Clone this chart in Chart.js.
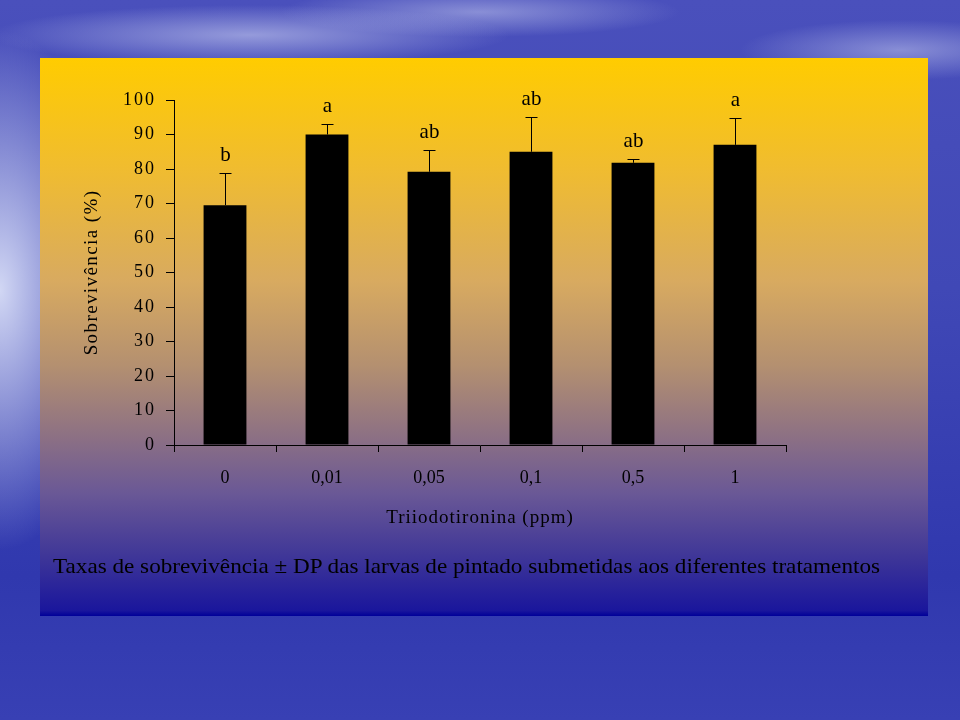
<!DOCTYPE html>
<html>
<head>
<meta charset="utf-8">
<script src="https://cdn.jsdelivr.net/npm/chart.js@4/dist/chart.umd.min.js"></script>
<style>
  html, body { margin: 0; padding: 0; }
  body {
    width: 960px; height: 720px; overflow: hidden; position: relative;
    background:
      radial-gradient(ellipse 120px 260px at 0px 290px, rgba(235,240,255,0.85), rgba(235,240,255,0) 100%),
      radial-gradient(ellipse 260px 30px at 250px 35px, rgba(200,205,240,0.6), rgba(200,205,240,0) 100%),
      radial-gradient(ellipse 200px 25px at 480px 12px, rgba(200,205,240,0.5), rgba(200,205,240,0) 100%),
      radial-gradient(ellipse 160px 30px at 900px 50px, rgba(200,205,240,0.5), rgba(200,205,240,0) 100%),
      linear-gradient(180deg, #4a50bc 0%, #4048b6 40%, #3038ae 80%, #3840b4 100%);
  }
  #panel {
    position: absolute; left: 40px; top: 58px; width: 888px; height: 558px;
    background: linear-gradient(180deg, #ffcc00 0%, #f0bc30 20%, #d8aa60 40%, #b49070 55%, #8c7084 68%, #6a5896 78%, #3c3498 90%, #1a169c 99%, #000099 100%);
  }
  #chart { position: absolute; left: 0; top: 0; }
  #caption {
    position: absolute; left: 53px; top: 553px;
    font-family: "Liberation Serif", serif; font-size: 22px; color: #000;
    white-space: nowrap; transform-origin: 0 0;
  }
</style>
</head>
<body>
<div id="panel"></div>
<canvas id="chart" width="960" height="720"></canvas>
<div id="caption">Taxas de sobrevivência ± DP das larvas de pintado submetidas aos diferentes tratamentos</div>
<script>
// dados
const doses = ["0", "0,01", "0,05", "0,1", "0,5", "1"];
const sobrevivencia = [69.5, 90, 79.2, 85, 81.8, 87];
const desvio = [9.3, 3.1, 6.4, 10.2, 1.2, 7.9];
const letras = ["b", "a", "ab", "ab", "ab", "a"];
const yTicks = [0, 10, 20, 30, 40, 50, 60, 70, 80, 90, 100];

const serif = "'Liberation Serif', 'Times New Roman', serif";

// barras de erro e letras acima das barras
const errorBars = {
  id: "errorBars",
  afterDatasetsDraw(chart) {
    const ctx = chart.ctx;
    const y = chart.scales.y;
    const meta = chart.getDatasetMeta(0);
    ctx.save();
    ctx.strokeStyle = "#000";
    ctx.lineWidth = 1;
    ctx.fillStyle = "#000";
    ctx.font = "21px " + serif;
    ctx.textAlign = "center";
    ctx.textBaseline = "alphabetic";
    meta.data.forEach((bar, i) => {
      const x = Math.round(bar.x) + 0.5;
      const yTop = Math.round(y.getPixelForValue(sobrevivencia[i] + desvio[i])) + 0.5;
      const yBar = y.getPixelForValue(sobrevivencia[i]);
      ctx.beginPath();
      ctx.moveTo(x, yBar);
      ctx.lineTo(x, yTop);
      ctx.moveTo(x - 6, yTop);
      ctx.lineTo(x + 6, yTop);
      ctx.stroke();
      ctx.fillText(letras[i], x, yTop - 13);
    });
    ctx.restore();
  }
};

// texto espaçado como no original
function spaced(ctx, scale, method, amount) {
  const orig = scale[method].bind(scale);
  scale[method] = (...args) => {
    ctx.letterSpacing = amount;
    orig(...args);
    ctx.letterSpacing = "0px";
  };
}
const spacing = {
  id: "spacing",
  afterLayout(chart) {
    const ctx = chart.ctx;
    const y = chart.scales.y, x = chart.scales.x;
    if (!y._spaced) {
      spaced(ctx, y, "drawLabels", "2px");
      spaced(ctx, y, "drawTitle", "1.4px");
      y._spaced = true;
    }
    if (!x._spaced) {
      spaced(ctx, x, "drawTitle", "1px");
      x._spaced = true;
    }
  }
};

new Chart(document.getElementById("chart"), {
  type: "bar",
  data: {
    labels: doses,
    datasets: [{
      data: sobrevivencia,
      backgroundColor: "#000",
      borderWidth: 0,
      barPercentage: 0.42,
      categoryPercentage: 1
    }]
  },
  options: {
    responsive: false,
    animation: false,
    layout: { padding: { left: 0, top: 100, right: 174, bottom: 185 } },
    plugins: { legend: { display: false }, tooltip: { enabled: false } },
    scales: {
      x: {
        afterFit: (s) => { s.height = 90; },
        grid: { drawOnChartArea: false, color: "#000", tickLength: 7, offset: true },
        border: { color: "#000", width: 1 },
        ticks: { color: "#000", font: { family: serif, size: 18 }, padding: 15 },
        title: { display: true, text: "Triiodotironina (ppm)", color: "#000",
                 font: { family: serif, size: 19 }, padding: { top: 0, bottom: 6 } }
      },
      y: {
        min: 0, max: 100,
        afterFit: (s) => { s.width = 174; },
        afterBuildTicks: (s) => { s.ticks = yTicks.map(v => ({ value: v })); },
        grid: { drawOnChartArea: false, color: "#000", tickLength: 8 },
        border: { color: "#000", width: 1 },
        ticks: { color: "#000", font: { family: serif, size: 18 }, padding: 10 },
        title: { display: true, text: "Sobrevivência (%)", color: "#000",
                 font: { family: serif, size: 19 }, padding: { top: 81, bottom: 0 } }
      }
    }
  },
  plugins: [errorBars, spacing]
});

// ajusta a legenda à largura do original
const cap = document.getElementById("caption");
const w = cap.getBoundingClientRect().width;
cap.style.transform = "scaleX(" + (827 / w) + ")";
</script>
</body>
</html>
